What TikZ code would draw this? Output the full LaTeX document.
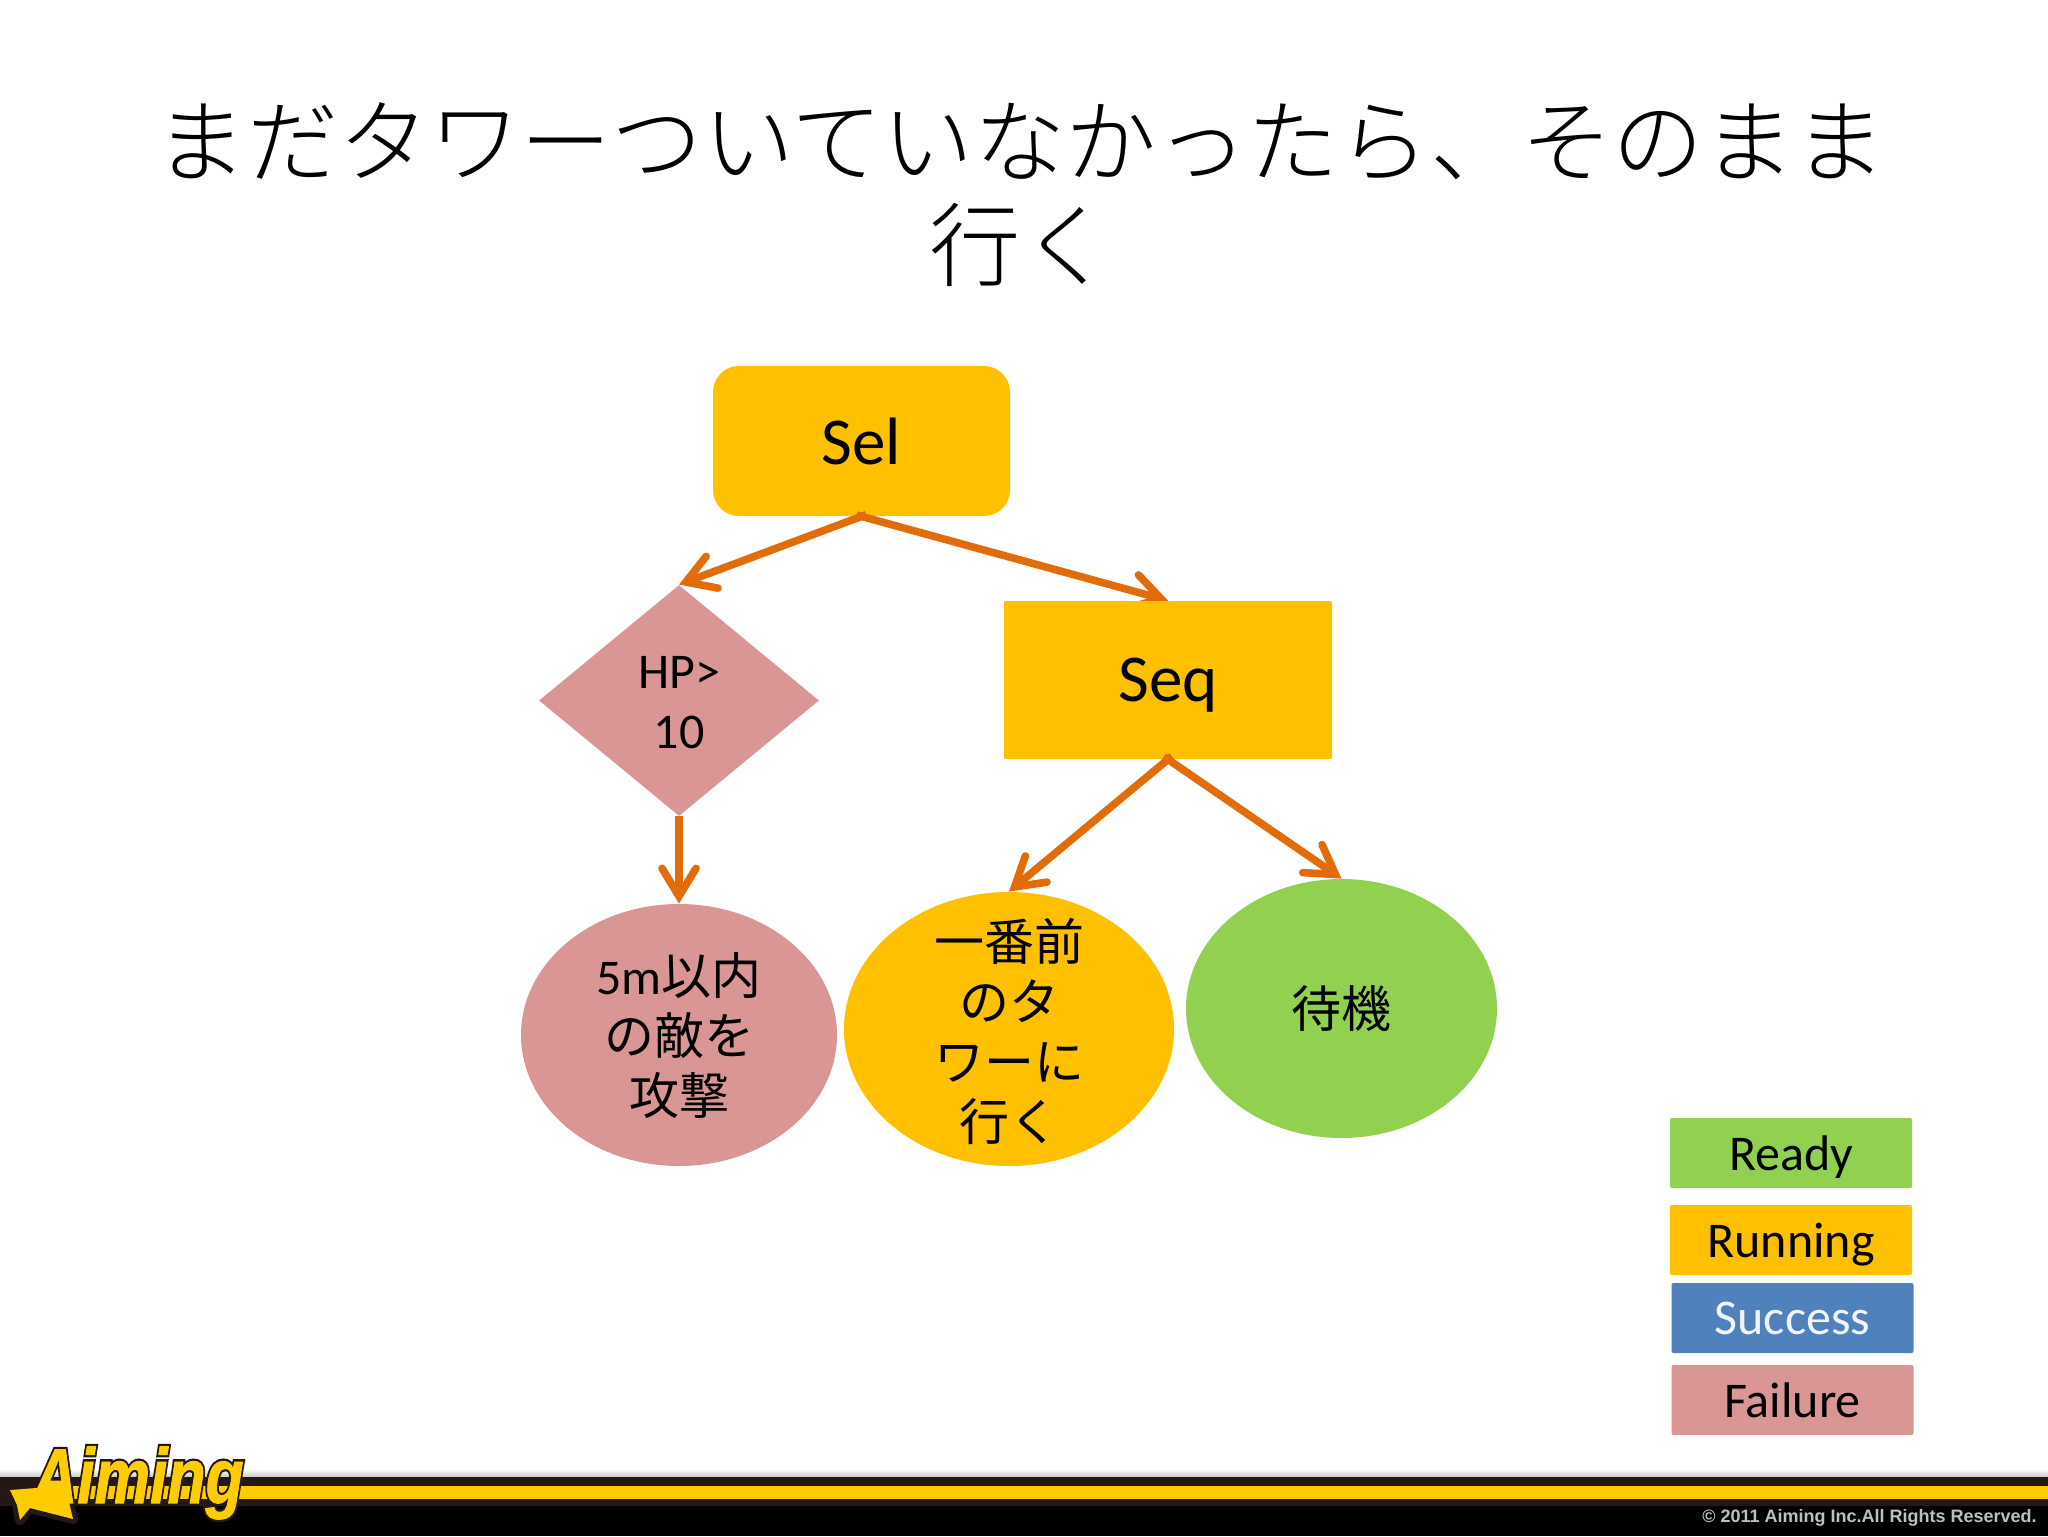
\documentclass[tikz,border=0pt]{standalone}
\usepackage{fontspec}
\usetikzlibrary{arrows.meta,shapes.geometric}
\setmainfont{Carlito}
\newfontfamily\cjk{Noto Sans CJK JP}
\newfontfamily\cjkl{Noto Sans CJK JP Light}
\newfontfamily\logofont[FakeBold=1.2]{Liberation Sans Bold Italic}
\newfontfamily\logofontb[FakeBold=7]{Liberation Sans Bold Italic}
\newfontfamily\copyfont{Liberation Sans Bold}
\definecolor{runc}{HTML}{FFC000}
\definecolor{readyc}{HTML}{92D050}
\definecolor{failc}{HTML}{D99694}
\definecolor{succc}{HTML}{4F81BD}
\definecolor{arrc}{HTML}{E36C0A}
\definecolor{logoy}{HTML}{FFCC00}
\definecolor{barb}{HTML}{231815}
\pgfdeclarelayer{backl}
\pgfdeclarelayer{midl}
\pgfsetlayers{backl,midl,main}
\tikzset{
  big/.style={font=\fontsize{33.5}{38}\selectfont},
  mid/.style={font=\fontsize{25}{30}\selectfont},
  bellipse/.style={ellipse,inner sep=0pt},
  elabel/.style={inner sep=0pt,align=center,mid},
  legend/.style={rectangle,inner sep=0pt,minimum width=121pt,minimum height=35pt,mid,rounded corners=1pt},
  conn/.style={arrc,line width=3.8pt,
    -{Straight Barb[length=14pt,width=17pt,line cap=round]}},
}
\begin{document}
\begin{tikzpicture}[x=0.5pt,y=-0.5pt]
\useasboundingbox (0,0) rectangle (2048,1536);
\begin{pgfonlayer}{backl}
\fill[white] (0,0) rectangle (2048,1536);
\node[big,fill=runc,rounded corners=13pt,minimum width=148.5pt,minimum height=75pt,inner sep=0pt] (sel) at (861.5,441) {Sel};
\end{pgfonlayer}
% title
\node[align=center,inner sep=0pt,font=\fontsize{45.6}{52}\selectfont\cjkl] (title) at (1021,195)
  {まだタワーついていなかったら、そのまま\\行く};
% nodes
\node[big,fill=runc,rounded corners=1pt,minimum width=164pt,minimum height=79pt,inner sep=0pt,text depth=0pt] (seq) at (1168,680) {Seq};
\node[diamond,fill=failc,minimum width=140pt,minimum height=115.5pt,inner sep=0pt,aspect=1.2] (dia) at (679,700.5) {};
\node[elabel] (dial) at (679,703) {HP>\\10};
\node[bellipse,fill=failc,minimum width=158pt,minimum height=131pt] (e1) at (679,1035) {};
\node[elabel] (e1l) at (679,1036) {5m{\cjk 以内}\\{\cjk の敵を}\\{\cjk 攻撃}};
\node[bellipse,fill=runc,minimum width=165pt,minimum height=137pt] (e2) at (1009,1029) {};
\node[elabel] (e2l) at (1009,1031) {\cjk 一番前\\\cjk のタ\\\cjk ワーに\\\cjk 行く};
\node[bellipse,fill=readyc,minimum width=155.5pt,minimum height=129.5pt] (e3) at (1341.5,1008.5) {};
\node[elabel] (e3l) at (1341.5,1008.5) {\cjk 待機};
% connectors
\begin{pgfonlayer}{midl}
\draw[conn,shorten <=-2.5pt] (sel.south) -- (seq.north);
\end{pgfonlayer}
\draw[conn,shorten <=-2.5pt] (sel.south) -- (dia.north);
\draw[conn,shorten <=-2.5pt] (seq.south) -- (e2.north);
\draw[conn,shorten <=-2.5pt] (seq.south) -- (e3.north);
\draw[conn] (dia.south) -- (e1.north);
% legend
\node[legend,fill=readyc,text depth=0pt] (lready) at (1791,1153) {Ready};
\node[legend,fill=runc,text depth=0pt] (lrun) at (1791,1240) {Running};
\node[legend,fill=succc,text=white!92!succc] (lsucc) at (1792.5,1318) {Success};
\node[legend,fill=failc] (lfail) at (1792.5,1400) {Failure};
% footer
\shade[top color=white,bottom color=black!22] (0,1469) rectangle (2048,1477);
\fill[barb] (0,1477) rectangle (2048,1506);
\fill[logoy] (60,1486) rectangle (2048,1499);
\fill[black] (0,1506) rectangle (2048,1536);
% logo
\filldraw[barb,line width=5pt,line join=round] (10,1490) -- (62,1486) -- (68,1498) -- (73,1519) -- (30,1508) -- (20,1520) -- (17,1505) -- cycle;
\node[inner sep=0pt,text=barb] (logob) at (138,1483) {\fontsize{39}{39}\selectfont\logofontb\scalebox{.8}[1]{Aiming}};
\fill[logoy] (10,1490) -- (62,1486) -- (68,1498) -- (73,1519) -- (30,1508) -- (20,1520) -- (17,1505) -- cycle;
\node[inner sep=0pt,text=logoy] (logo) at (138,1483) {\fontsize{39}{39}\selectfont\logofont\scalebox{.8}[1]{Aiming}};
% copyright
\node[anchor=east,inner sep=0pt,text=black!25,font=\fontsize{9}{10}\selectfont\copyfont] (copy) at (2037,1518) {© 2011 Aiming Inc.All Rights Reserved.};
\end{tikzpicture}
\end{document}
